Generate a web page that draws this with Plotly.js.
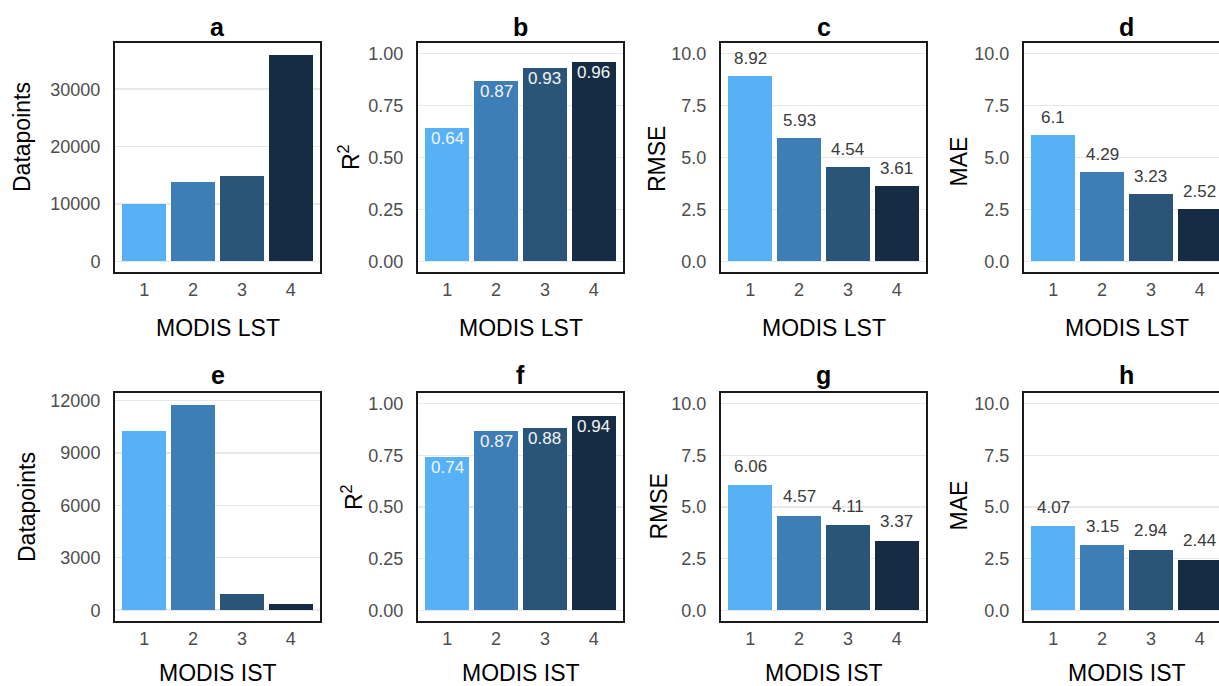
<!DOCTYPE html>
<html><head><meta charset="utf-8">
<script src="https://cdn.plot.ly/plotly-3.0.1.min.js"></script>
<style>
html,body{margin:0;padding:0;overflow:hidden;background:#fff;width:1219px;height:686px}
#chart{width:1240px;height:686px}
</style>
</head><body><div id="chart"></div>
<script>
// ---- data ----
const categories = [1, 2, 3, 4];
const categoryLabels = ['1', '2', '3', '4'];
const lstDatapoints = [10000, 13900, 14800, 35900];
const lstR2 = [0.64, 0.87, 0.93, 0.96];
const lstRMSE = [8.92, 5.93, 4.54, 3.61];
const lstMAE = [6.1, 4.29, 3.23, 2.52];
const istDatapoints = [10250, 11750, 950, 340];
const istR2 = [0.74, 0.87, 0.88, 0.94];
const istRMSE = [6.06, 4.57, 4.11, 3.37];
const istMAE = [4.07, 3.15, 2.94, 2.44];
const panelLetters = ['a', 'b', 'c', 'd', 'e', 'f', 'g', 'h'];
const xTitles = ['MODIS LST', 'MODIS IST'];
const yTitles = ['Datapoints', 'R<sup>2</sup>', 'RMSE', 'MAE'];
const lstCountTicks = [0, 10000, 20000, 30000];
const lstCountTickText = ['0', '10000', '20000', '30000'];
const istCountTicks = [0, 3000, 6000, 9000, 12000];
const istCountTickText = ['0', '3000', '6000', '9000', '12000'];
const r2Ticks = [0, 0.25, 0.5, 0.75, 1];
const r2TickText = ['0.00', '0.25', '0.50', '0.75', '1.00'];
const errTicks = [0, 2.5, 5, 7.5, 10];
const errTickText = ['0.0', '2.5', '5.0', '7.5', '10.0'];
const barColors = ['#56B1F7', '#3D7EB7', '#2A5579', '#162C44'];

// ---- layout geometry (pixels) ----
const W = 1240, H = 686;
const colX = [[115, 320], [418, 623], [721, 926], [1024, 1229]];
const rowY = [[43.3, 271.7], [393.3, 620.7]];
const FONT = 'Liberation Sans, Arial, sans-serif';

const panels = [
  {vals: lstDatapoints, ticks: lstCountTicks, tt: lstCountTickText, range: [-1800, 38000], lab: null},
  {vals: lstR2, ticks: r2Ticks, tt: r2TickText, range: [-0.05, 1.05], lab: 'in'},
  {vals: lstRMSE, ticks: errTicks, tt: errTickText, range: [-0.5, 10.5], lab: 'out'},
  {vals: lstMAE, ticks: errTicks, tt: errTickText, range: [-0.5, 10.5], lab: 'out'},
  {vals: istDatapoints, ticks: istCountTicks, tt: istCountTickText, range: [-600, 12400], lab: null},
  {vals: istR2, ticks: r2Ticks, tt: r2TickText, range: [-0.05, 1.05], lab: 'in'},
  {vals: istRMSE, ticks: errTicks, tt: errTickText, range: [-0.5, 10.5], lab: 'out'},
  {vals: istMAE, ticks: errTicks, tt: errTickText, range: [-0.5, 10.5], lab: 'out'}
];

// axis-title centres (pixels)
const yTitleX = [[22, 349, 657, 958.5], [27, 352, 658.5, 958.5]];
const yTitleY = [[137, 157, 159, 162], [507, 497, 507, 506]];
const xTitleY = [328.5, 673];
const letterY = [27, 374.5];
const outShift = [17.5, 19];

const px = x => x / W;
const py = y => 1 - y / H;

const traces = [];
const layout = {
  width: W, height: H,
  margin: {l: 0, r: 0, t: 0, b: 0},
  paper_bgcolor: '#fff', plot_bgcolor: '#fff',
  showlegend: false,
  font: {family: FONT, color: '#000'},
  annotations: [],
  bargap: 0
};

panels.forEach((p, i) => {
  const row = Math.floor(i / 4), col = i % 4;
  const n = i + 1;
  const xa = 'x' + n, ya = 'y' + n;
  traces.push({
    type: 'bar', x: categories, y: p.vals, width: 0.9,
    marker: {color: barColors, line: {width: 0}},
    xaxis: xa, yaxis: ya, hoverinfo: 'skip'
  });
  const frame = {showline: true, mirror: true, linecolor: '#1a1a1a', linewidth: 2, zeroline: false, fixedrange: true};
  layout['xaxis' + (n === 1 ? '' : n)] = Object.assign({}, frame, {
    domain: [px(colX[col][0]), px(colX[col][1])],
    anchor: ya, range: [0.4, 4.6],
    tickvals: categories, ticktext: categoryLabels,
    showgrid: false, ticks: '', ticklabelstandoff: 1,
    tickfont: {size: 18, color: '#4D4D4D', family: FONT}
  });
  layout['yaxis' + (n === 1 ? '' : n)] = Object.assign({}, frame, {
    domain: [py(rowY[row][1]), py(rowY[row][0])],
    anchor: xa, range: p.range,
    tickvals: p.ticks, ticktext: p.tt,
    showgrid: true, gridcolor: '#E8E8E8', gridwidth: 1.5,
    ticks: '', ticklabelstandoff: 9,
    tickfont: {size: 18, color: '#4D4D4D', family: FONT}
  });
  const cx = (colX[col][0] + colX[col][1]) / 2;
  // panel letter
  layout.annotations.push({
    text: panelLetters[i], xref: 'paper', yref: 'paper', x: px(cx), y: py(letterY[row]),
    xanchor: 'center', yanchor: 'middle', showarrow: false,
    font: {size: 25, color: '#000', family: FONT, weight: 'bold'}
  });
  // x title
  layout.annotations.push({
    text: xTitles[row], xref: 'paper', yref: 'paper', x: px(cx), y: py(xTitleY[row]),
    xanchor: 'center', yanchor: 'middle', showarrow: false,
    font: {size: 23, color: '#000', family: FONT}
  });
  // y title
  layout.annotations.push({
    text: yTitles[col], xref: 'paper', yref: 'paper', x: px(yTitleX[row][col]), y: py(yTitleY[row][col]),
    xanchor: 'center', yanchor: 'middle', showarrow: false, textangle: -90,
    font: {size: 23, color: '#000', family: FONT}
  });
  // value labels
  if (p.lab) {
    categories.forEach((c, k) => {
      layout.annotations.push({
        text: String(p.vals[k]), xref: xa, yref: ya, x: c, y: p.vals[k],
        xanchor: 'center', yanchor: 'middle', showarrow: false,
        yshift: p.lab === 'in' ? -10.5 : outShift[row],
        font: {size: 17, family: FONT, color: p.lab === 'in' ? '#F4F4F4' : '#3A3A3A'}
      });
    });
  }
});

Plotly.newPlot('chart', traces, layout, {staticPlot: true, displayModeBar: false});
</script>
</body></html>
